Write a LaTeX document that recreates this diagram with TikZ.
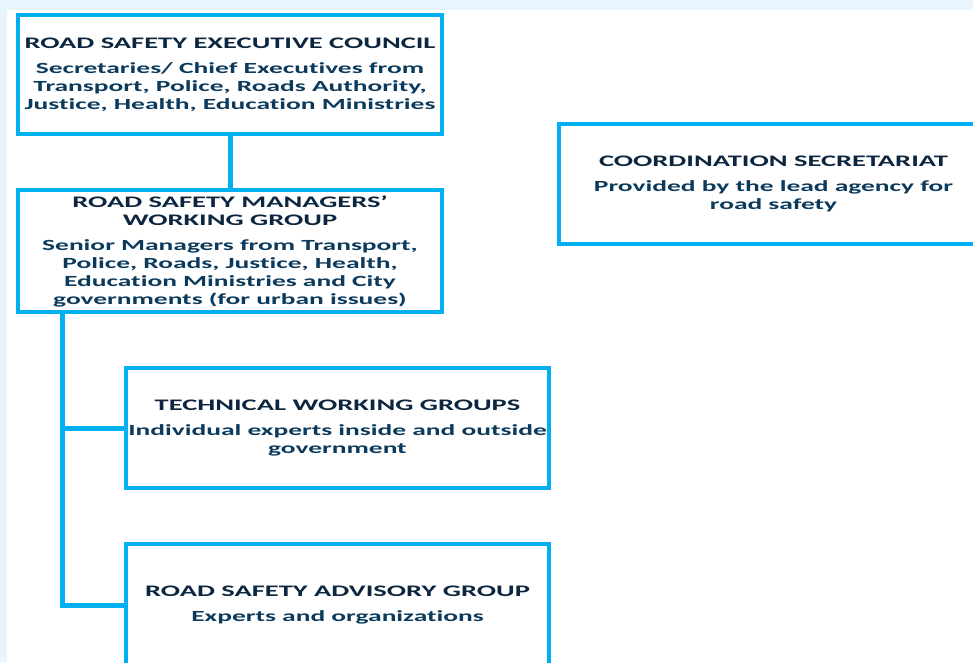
\documentclass[tikz,border=0pt]{standalone}
\usepackage{fontspec}
\newfontfamily\boxfont{Carlito Bold}[Ligatures=NoCommon, FakeStretch=1.77]
\newcommand\ttlsize{\fontsize{16.1}{18}\selectfont}
\definecolor{edge}{HTML}{00B0F0}
\definecolor{ttl}{HTML}{0C2640}
\definecolor{sub}{HTML}{0B3A5C}
\definecolor{bgstrip}{HTML}{E8F5FC}
\begin{document}
\begin{tikzpicture}[x=1pt,y=-1pt,
  orgbox/.style={draw=edge, line width=4.5pt, fill=white, align=center,
    inner sep=0pt, font=\boxfont\fontsize{15.5}{18}\selectfont, text=sub},
  link/.style={draw=edge, line width=5pt}]
\useasboundingbox (0,0) rectangle (973,662);
\fill[bgstrip] (0,0) rectangle (973,10);
\fill[bgstrip] (0,0) rectangle (7,662);
\node[orgbox, minimum width=424pt, minimum height=119pt] (b1) at (230,74.5)
  {{\ttlsize\color{ttl}ROAD SAFETY EXECUTIVE COUNCIL}\\[7pt]
   Secretaries/ Chief Executives from\\
   Transport, Police, Roads Authority,\\
   Justice, Health, Education Ministries};
\node[orgbox, minimum width=429pt, minimum height=120pt] (b2) at (773.5,184)
  {{\ttlsize\color{ttl}COORDINATION SECRETARIAT}\\[7pt]
   Provided by the lead agency for\\
   road safety};
\node[orgbox, minimum width=424pt, minimum height=122pt] (b3) at (230,251)
  {{\ttlsize\color{ttl}ROAD SAFETY MANAGERS’}\\
   {\ttlsize\color{ttl}WORKING GROUP}\\[7pt]
   Senior Managers from Transport,\\
   Police, Roads, Justice, Health,\\
   Education Ministries and City\\
   governments (for urban issues)};
\node[orgbox, minimum width=423pt, minimum height=120pt] (b4) at (337.5,428)
  {{\ttlsize\color{ttl}TECHNICAL WORKING GROUPS}\\[7pt]
   Individual experts inside and outside\\
   government};
\node[orgbox, minimum width=423pt, minimum height=122pt] (b5) at (337.5,605)
  {{\ttlsize\color{ttl}ROAD SAFETY ADVISORY GROUP}\\[7pt]
   Experts and organizations};
\coordinate (t) at (62,314);
\draw[link] (b1.south) -- (b3.north);
\draw[link] (t) |- (b5.west);
\draw[link] (t |- b4.west) -- (b4.west);
\end{tikzpicture}
\end{document}
